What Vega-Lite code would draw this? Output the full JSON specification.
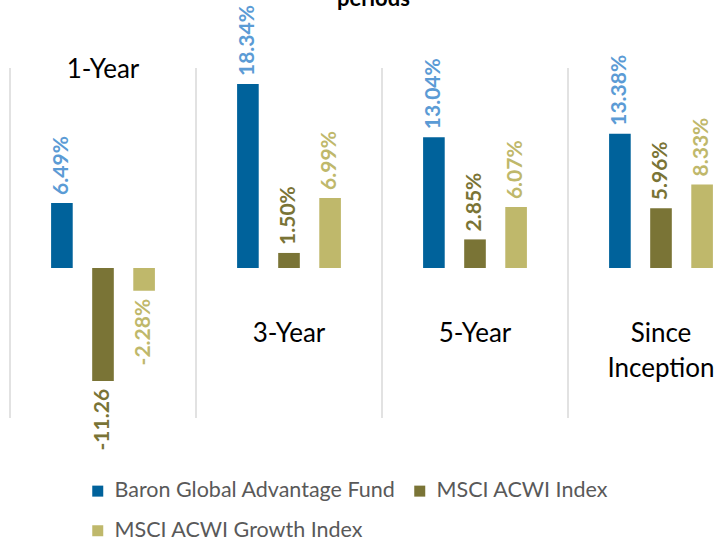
{
  "$schema": "https://vega.github.io/schema/vega-lite/v6.json",
  "width": 709,
  "height": 542,
  "autosize": "none",
  "padding": {"left": 10, "top": 0, "right": 0, "bottom": 0},
  "background": "white",
  "title": {"text": "periods", "font": "Lato", "fontSize": 22, "fontWeight": "bold", "color": "#000000", "anchor": "start", "frame": "group", "dx": 327, "dy": 28, "offset": 0, "baseline": "alphabetic"},
  "config": {"view": {"stroke": null}},
  "data": {"values": [
    {"period": "1-Year", "series": "Baron Global Advantage Fund", "value": 6.49, "label": "6.49%"},
    {"period": "1-Year", "series": "MSCI ACWI Index", "value": -11.26, "label": "-11.26"},
    {"period": "1-Year", "series": "MSCI ACWI Growth Index", "value": -2.28, "label": "-2.28%"},
    {"period": "3-Year", "series": "Baron Global Advantage Fund", "value": 18.34, "label": "18.34%"},
    {"period": "3-Year", "series": "MSCI ACWI Index", "value": 1.50, "label": "1.50%"},
    {"period": "3-Year", "series": "MSCI ACWI Growth Index", "value": 6.99, "label": "6.99%"},
    {"period": "5-Year", "series": "Baron Global Advantage Fund", "value": 13.04, "label": "13.04%"},
    {"period": "5-Year", "series": "MSCI ACWI Index", "value": 2.85, "label": "2.85%"},
    {"period": "5-Year", "series": "MSCI ACWI Growth Index", "value": 6.07, "label": "6.07%"},
    {"period": "Since\nInception", "series": "Baron Global Advantage Fund", "value": 13.38, "label": "13.38%"},
    {"period": "Since\nInception", "series": "MSCI ACWI Index", "value": 5.96, "label": "5.96%"},
    {"period": "Since\nInception", "series": "MSCI ACWI Growth Index", "value": 8.33, "label": "8.33%"}
  ]},
  "encoding": {
    "x": {"field": "period", "type": "nominal", "sort": null, "axis": null,
          "scale": {"range": [0, 744], "paddingInner": 0, "paddingOuter": 0}}
  },
  "layer": [
    {
      "transform": [{"filter": "datum.series === 'Baron Global Advantage Fund'"}],
      "mark": {"type": "rule", "color": "#d9d9d9", "strokeWidth": 1.5},
      "encoding": {
        "x": {"field": "period", "type": "nominal", "sort": null, "bandPosition": 0},
        "y": {"datum": 19.95, "type": "quantitative", "scale": {"domain": [-27.32, 26.72], "nice": false, "zero": false}, "axis": null},
        "y2": {"datum": -14.96}
      }
    },
    {
      "mark": {"type": "bar"},
      "encoding": {
        "xOffset": {"field": "series", "type": "nominal", "sort": null,
                    "scale": {"paddingInner": 0.4737, "paddingOuter": 1.184}},
        "y": {"field": "value", "type": "quantitative"},
        "y2": {"datum": 0},
        "color": {"field": "series", "type": "nominal", "sort": null,
                  "scale": {"domain": ["Baron Global Advantage Fund", "MSCI ACWI Index", "MSCI ACWI Growth Index"],
                            "range": ["#00629B", "#7A7436", "#BFB86B"]},
                  "legend": {"orient": "none", "legendX": 77, "legendY": 480, "columns": 2, "direction": "horizontal", "title": null,
                             "symbolType": "square", "symbolSize": 121, "symbolStrokeWidth": 0,
                             "labelFont": "Lato", "labelFontSize": 21.5, "labelColor": "#595959",
                             "labelOffset": 6, "columnPadding": 13, "rowPadding": 17, "padding": 0, "labelLimit": 400}}
      }
    },
    {
      "transform": [{"filter": "datum.value >= 0"}],
      "mark": {"type": "text", "angle": 270, "align": "left", "baseline": "middle", "dx": 8, "font": "Lato", "fontSize": 21, "fontWeight": "bold"},
      "encoding": {
        "xOffset": {"field": "series", "type": "nominal", "sort": null},
        "y": {"field": "value", "type": "quantitative"},
        "text": {"field": "label"},
        "fill": {"field": "series", "type": "nominal", "sort": null, "legend": null,
                 "scale": {"domain": ["Baron Global Advantage Fund", "MSCI ACWI Index", "MSCI ACWI Growth Index"],
                           "range": ["#5B9BD5", "#7A7436", "#BFB86B"]}}
      }
    },
    {
      "transform": [{"filter": "datum.value < 0"}],
      "mark": {"type": "text", "angle": 270, "align": "right", "baseline": "middle", "dx": -8, "font": "Lato", "fontSize": 21, "fontWeight": "bold"},
      "encoding": {
        "xOffset": {"field": "series", "type": "nominal", "sort": null},
        "y": {"field": "value", "type": "quantitative"},
        "text": {"field": "label"},
        "fill": {"field": "series", "type": "nominal", "sort": null, "legend": null}
      }
    },
    {
      "transform": [{"filter": "datum.series === 'Baron Global Advantage Fund' && datum.period === '1-Year'"}],
      "mark": {"type": "text", "font": "Lato", "fontSize": 26, "color": "#000000", "baseline": "middle", "align": "center", "lineBreak": "\n", "lineHeight": 35},
      "encoding": {
        "y": {"datum": 19.7, "type": "quantitative"},
        "text": {"field": "period"}
      }
    },
    {
      "transform": [{"filter": "datum.series === 'Baron Global Advantage Fund' && datum.period !== '1-Year'"}],
      "mark": {"type": "text", "font": "Lato", "fontSize": 26, "color": "#000000", "baseline": "top", "align": "center", "lineBreak": "\n", "lineHeight": 35},
      "encoding": {
        "y": {"datum": -5.3, "type": "quantitative"},
        "text": {"field": "period"}
      }
    }
  ]
}
